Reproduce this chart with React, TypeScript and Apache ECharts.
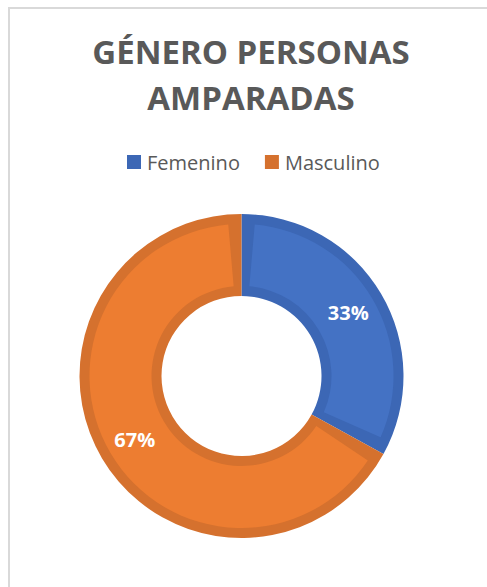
import React, { useEffect, useRef } from "react";
import * as echarts from "echarts";

const categories = ["Femenino", "Masculino"];
const values = [33, 67];
const fillColors = ["#4472C4", "#ED7D31"];
const edgeColors = ["#3C67B5", "#D5712E"];
const titleText = "GÉNERO PERSONAS\nAMPARADAS";

export default function App() {
  const ref = useRef<HTMLDivElement>(null);
  useEffect(() => {
    if (!ref.current) return;
    const chart = echarts.init(ref.current, null, { renderer: "svg" });
    const font = "'Open Sans', 'Noto Sans', sans-serif";
    chart.setOption({
      animation: false,
      backgroundColor: "#ffffff",
      title: {
        text: titleText,
        left: 251,
        top: 28,
        padding: 0,
        textAlign: "center",
        textStyle: {
          fontFamily: font,
          fontSize: 33,
          fontWeight: "bold",
          color: "#595959",
          lineHeight: 46,
        },
      },
      legend: {
        data: categories,
        left: 127,
        top: 152,
        padding: 0,
        icon: "rect",
        itemWidth: 14,
        itemHeight: 14,
        itemGap: 25,
        textStyle: { fontFamily: font, fontSize: 20, color: "#595959", padding: [0, 0, 0, 1] },
      },
      graphic: [
        {
          type: "rect",
          shape: { x: 9, y: 8, width: 700, height: 800 },
          style: { fill: "none", stroke: "#D9D9D9", lineWidth: 2 },
          silent: true,
        },
      ],
      series: [
        {
          type: "pie",
          center: [241.5, 376],
          radius: [80, 162],
          startAngle: 90,
          clockwise: true,
          data: categories.map((n, i) => ({
            name: n,
            value: values[i],
            itemStyle: { color: edgeColors[i] },
          })),
          label: { show: false },
          labelLine: { show: false },
          emphasis: { disabled: true },
          z: 2,
        },
        {
          type: "pie",
          center: [241.5, 376],
          radius: [90, 152],
          startAngle: 90,
          clockwise: true,
          padAngle: 10,
          silent: true,
          legendHoverLink: false,
          data: categories.map((n, i) => ({
            name: n,
            value: values[i],
            itemStyle: { color: fillColors[i] },
          })),
          label: {
            show: true,
            position: "inside",
            formatter: (p: any) => `${Math.round(p.percent)}%`,
            fontFamily: font,
            fontSize: 20,
            fontWeight: "bold",
            color: "#ffffff",
          },
          labelLine: { show: false },
          emphasis: { disabled: true },
          z: 3,
        },
      ],
    });
    return () => chart.dispose();
  }, []);
  return (
    <div
      ref={ref}
      style={{ position: "absolute", left: 0, top: 0, width: 487, height: 587 }}
    />
  );
}
